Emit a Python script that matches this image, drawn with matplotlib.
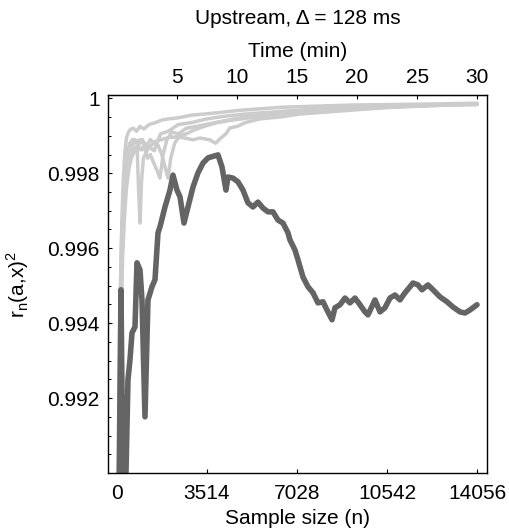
import matplotlib
matplotlib.use("Agg")
import matplotlib.pyplot as plt
from matplotlib.ticker import MultipleLocator, FixedLocator

plt.rcParams['font.family'] = ['Liberation Sans', 'DejaVu Sans']
plt.rcParams['font.size'] = 15

# Sample spacing (seconds) used for the time axis on top
DELTA_S = 0.128

# Running squared correlation of the decoded signal (dark trace)
dark_n = [80, 156, 234, 351, 429, 507, 586, 703, 781, 898, 976, 1093, 1210, 1366,
          1484, 1601, 1679, 1874, 2069, 2186, 2342, 2460, 2616, 2772, 2967, 3162,
          3357, 3553, 3943, 4099, 4255, 4333, 4529, 4724, 4919, 5114, 5309, 5505,
          5700, 5895, 6090, 6285, 6481, 6676, 6754, 6949, 7066, 7261, 7457, 7652,
          7847, 8042, 8198, 8394, 8511, 8706, 8901, 9096, 9292, 9487, 9682, 9799,
          10072, 10268, 10463, 10658, 10853, 11048, 11244, 11439, 11556, 11751,
          11907, 12141, 12337, 12610, 12883, 13117, 13391, 13586, 13781, 14056]
dark_r = [0.9895, 0.99489, 0.9895, 0.99000, 0.99249, 0.99302, 0.99374, 0.99390,
          0.99561, 0.99542, 0.99462, 0.99150, 0.99462, 0.99497, 0.99516, 0.99641,
          0.99657, 0.99710, 0.99755, 0.99795, 0.99755, 0.99737, 0.99667, 0.99710,
          0.99763, 0.99801, 0.99827, 0.99841, 0.99849, 0.99817, 0.99755, 0.99790,
          0.99787, 0.99777, 0.99755, 0.99721, 0.99710, 0.99723, 0.99707, 0.99697,
          0.99697, 0.99675, 0.99667, 0.99641, 0.99622, 0.99595, 0.99569, 0.99523,
          0.99497, 0.99481, 0.99454, 0.99457, 0.99435, 0.99409, 0.99441, 0.99449,
          0.99467, 0.99454, 0.99467, 0.99449, 0.99430, 0.99422, 0.99462, 0.99430,
          0.99441, 0.99467, 0.99475, 0.99462, 0.99481, 0.99497, 0.99507, 0.99502,
          0.99489, 0.99502, 0.99489, 0.99470, 0.99457, 0.99443, 0.99430, 0.99427,
          0.99435, 0.99449]

# Reference traces (light grey)
ref1_n = [50, 110, 170, 230, 300, 370, 450, 540, 640, 760, 900, 1050, 1250, 1500,
          1750, 2000, 2400, 2900, 3400, 4000, 4800, 5600, 6400, 7300, 8200, 9200,
          10300, 11400, 12500, 13300, 14056]
ref1_r = [0.9893, 0.9940, 0.9962, 0.9976, 0.9985, 0.99895, 0.9991, 0.99918, 0.9992,
          0.99912, 0.99925, 0.99918, 0.9993, 0.99935, 0.99942, 0.99945, 0.99948,
          0.99955, 0.99958, 0.99962, 0.99968, 0.99972, 0.99976, 0.99978, 0.9998,
          0.99982, 0.99983, 0.99984, 0.99985, 0.99986, 0.99987]

ref2_n = [60, 130, 190, 260, 330, 420, 520, 620, 700, 781, 840, 898, 960, 1030, 1093,
          1250, 1450, 1700, 2000, 2400, 2900, 3500, 4200, 5000, 5800, 6600, 7500,
          8500, 9500, 10500, 11500, 12500, 13300, 14056]
ref2_r = [0.9892, 0.9948, 0.9965, 0.9974, 0.9981, 0.9986, 0.9988, 0.99875, 0.9989,
          0.99883, 0.9976, 0.99667, 0.9978, 0.9984, 0.99849, 0.9987, 0.9986, 0.99905,
          0.99912, 0.9993, 0.99935, 0.99945, 0.99952, 0.99958, 0.99962, 0.99966,
          0.9997, 0.99974, 0.99977, 0.9998, 0.99981, 0.99983, 0.99984, 0.99985]

ref3_n = [70, 140, 200, 270, 340, 420, 500, 600, 720, 850, 1000, 1100, 1200, 1300,
          1420, 1550, 1679, 1800, 1950, 2150, 2400, 2700, 3100, 3600, 4200, 4800,
          5500, 6300, 7200, 8100, 9000, 10000, 11000, 12000, 13000, 14056]
ref3_r = [0.9891, 0.9945, 0.9962, 0.9972, 0.9980, 0.9985, 0.9988, 0.9989, 0.99882,
          0.99888, 0.9989, 0.9986, 0.9984, 0.9985, 0.9983, 0.9981, 0.99787, 0.9985,
          0.9989, 0.9991, 0.99905, 0.9992, 0.99925, 0.99932, 0.9994, 0.99948,
          0.99955, 0.9996, 0.99963, 0.99968, 0.99972, 0.99975, 0.99978, 0.99981,
          0.99983, 0.99984]

ref4_n = [80, 150, 210, 280, 360, 440, 530, 640, 760, 880, 1000, 1150, 1300, 1450,
          1600, 1750, 1900, 1990, 2100, 2250, 2450, 2700, 3000, 3400, 3900, 4500,
          5200, 6000, 6900, 7800, 8800, 9800, 10800, 11800, 12800, 14056]
ref4_r = [0.9890, 0.9942, 0.9960, 0.9970, 0.9978, 0.9983, 0.9986, 0.9987, 0.99855,
          0.9988, 0.99885, 0.9987, 0.9989, 0.9988, 0.99875, 0.9985, 0.9981, 0.99787,
          0.9984, 0.9988, 0.9990, 0.99905, 0.99915, 0.99925, 0.99935, 0.99942,
          0.99948, 0.99955, 0.9996, 0.99965, 0.9997, 0.99974, 0.99977, 0.9998,
          0.99982, 0.99983]

ref5_n = [90, 160, 220, 290, 370, 460, 560, 680, 800, 950, 1100, 1300, 1500, 1750,
          2000, 2300, 2655, 2967, 3240, 3631, 3850, 4021, 4250, 4412, 4700, 5000,
          5583, 6364, 7144, 7925, 9096, 10268, 11439, 12610, 13400, 14056]
ref5_r = [0.9890, 0.9940, 0.9958, 0.9968, 0.9976, 0.9981, 0.9984, 0.9986, 0.9987,
          0.99862, 0.9988, 0.99872, 0.99885, 0.9989, 0.99895, 0.99897, 0.99894,
          0.99889, 0.99894, 0.99889, 0.99880, 0.99892, 0.99905, 0.99921, 0.99925,
          0.99935, 0.99945, 0.9995, 0.99958, 0.99962, 0.99968, 0.99974, 0.99978,
          0.99981, 0.99983, 0.99984]

x_ticks = [0, 3514, 7028, 10542, 14056]
y_ticks = [0.992, 0.994, 0.996, 0.998, 1.0]
y_tick_labels = ['0.992', '0.994', '0.996', '0.998', '1']
time_ticks = [5, 10, 15, 20, 25, 30]

fig = plt.figure(figsize=(5.10, 5.32), dpi=100)
ax = fig.add_axes([108 / 510, 59 / 532, 379 / 510, 378 / 532])

light = '#cccccc'
dark = '#646464'
for n, r in [(ref1_n, ref1_r), (ref2_n, ref2_r), (ref3_n, ref3_r),
             (ref4_n, ref4_r), (ref5_n, ref5_r)]:
    ax.plot(n, r, color=light, lw=2.5, solid_joinstyle='round', solid_capstyle='round')
ax.plot(dark_n, dark_r, color=dark, lw=4.0, solid_joinstyle='round', solid_capstyle='round')

ax.set_xlim(-351, 14446)
ax.set_ylim(0.99, 1.000088)
ax.set_xticks(x_ticks)
ax.set_yticks(y_ticks)
ax.set_yticklabels(y_tick_labels)
ax.yaxis.set_minor_locator(MultipleLocator(0.0005))
ax.tick_params(axis='both', which='major', direction='in', length=3, width=0.8,
               right=False, top=False)
ax.tick_params(axis='y', which='major', pad=6)
ax.tick_params(axis='x', which='major', pad=8)
ax.tick_params(axis='y', which='minor', direction='in', length=2, width=0.7, right=False)
for s in ax.spines.values():
    s.set_linewidth(1.0)

ax.set_xlabel('Sample size (n)', labelpad=4)
ax.set_ylabel(r'r$_\mathregular{n}$(a,x)$^\mathregular{2}$', labelpad=12)

to_min = lambda n: n * DELTA_S / 60.0
to_n = lambda m: m * 60.0 / DELTA_S
top = ax.secondary_xaxis('top', functions=(to_min, to_n))
top.xaxis.set_major_locator(FixedLocator(time_ticks))
top.tick_params(direction='in', length=3, width=0.8, pad=6)
top.set_xlabel('Time (min)', labelpad=8)
fig.text(0.5 * (108 + 487) / 510, 1 - 18 / 532, 'Upstream, \u0394 = 128 ms',
         ha='center', va='center', fontsize=15)

fig.savefig('out.png', dpi=100)
